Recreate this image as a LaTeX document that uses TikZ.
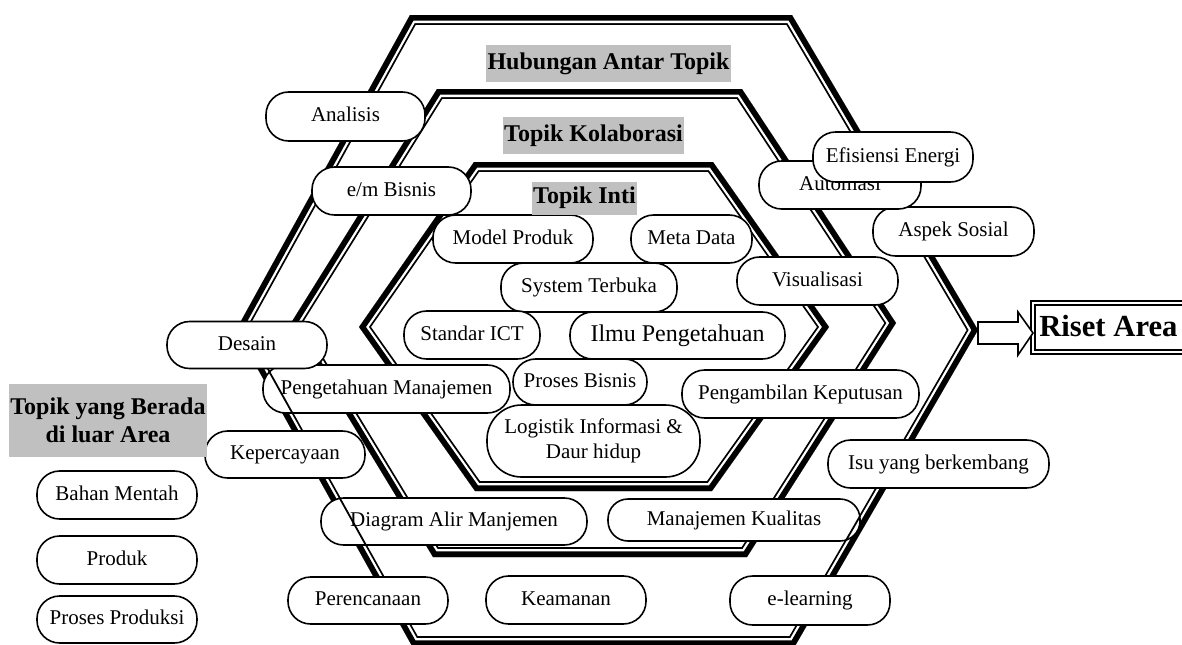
\documentclass[tikz,border=0pt]{standalone}
\usepackage{fontspec}
\setmainfont{Liberation Serif}
\definecolor{hdrgray}{RGB}{192,192,192}
\newcommand\lblfont{\fontsize{15.75}{18.75}\selectfont}
\newcommand\bigfont{\fontsize{18}{21}\selectfont}
\newcommand\hdrfont{\fontsize{18}{21}\selectfont\bfseries}
\newcommand\risetfont{\fontsize{23}{27}\selectfont\bfseries}
\newcommand\hexband[1]{%
  \begin{scope}
    \clip #1;
    \draw[line width=14.7pt] #1;
    \draw[white,line width=12pt] #1;
    \draw[line width=8.55pt] #1;
  \end{scope}}
\newcommand\thinover[2]{%
  \begin{scope}
    \clip[rounded corners=#2] (#1.south west) rectangle (#1.north east);
    \draw[line width=1.35pt, line join=miter] (415.2,23.8) -- (787.0,23.8) -- (967.8,330) -- (789.9,637.2) -- (417.2,637.2) -- (246.1,330) -- cycle;
  \end{scope}}
\tikzset{
  bw/.style={minimum width=#1*0.75pt},
  bh/.style={minimum height=#1*0.75pt},
  lblbase/.style={draw, line width=1.2pt, fill=white, rounded corners=17pt, inner sep=0pt,
    minimum height=36pt, font=\lblfont, align=center},
  lbl/.style={lblbase, text height=11pt, text depth=3.4pt},
  hdr/.style={fill=hdrgray, inner sep=0pt, font=\hdrfont, align=center},
  blockarrow/.style={draw, fill=white, line width=1.2pt, line join=miter}
}
\begin{document}
\begin{tikzpicture}[x=0.75pt,y=-0.75pt]
\useasboundingbox (0,0) rectangle (1182,644);
\clip (0,0) rectangle (1182,644);

% hexagons (thick-thin compound borders)
\hexband{(410,15) -- (792,15) -- (978,330) -- (795,646) -- (412,646) -- (236,330) -- cycle}
\hexband{(437,89) -- (742,89) -- (896,323) -- (747,557) -- (433,557) -- (291,323) -- cycle}
\hexband{(474,162) -- (713,162) -- (829,327) -- (712,491) -- (475,491) -- (359,327) -- cycle}

% boxes lying under the thin line of the outer hexagon
\node[lbl, bw=247, bh=48] (pm) at (386.5,389) {Pengetahuan Manajemen};
\node[lbl, bw=266, bh=47] (diagram) at (454,521.5) {Diagram Alir Manjemen};
\node[lbl, bw=252, bh=42, rounded corners=15pt] (kualitas) at (734,520) {Manajemen Kualitas};
\thinover{pm}{17pt}
\thinover{diagram}{17pt}
\thinover{kualitas}{15pt}

% other boxes
\node[lbl, bw=159, bh=49] (analisis) at (345.5,116.5) {Analisis};
\node[lbl, bw=159, bh=48] (embisnis) at (391.5,191) {e/m Bisnis};
\node[lbl, bw=160, bh=48] (modelproduk) at (513,239) {Model Produk};
\node[lbl, bw=121, bh=48] (metadata) at (691.5,239) {Meta Data};
\node[lbl, bw=176, bh=49] (system) at (589,287.5) {System Terbuka};
\node[lbl, bw=136, bh=48] (standar) at (472,335) {Standar ICT};
\node[lbl, bw=215, bh=47, font=\bigfont, text height=12.6pt, text depth=3.9pt] (ilmu) at (677.5,335.5) {Ilmu Pengetahuan};
\node[lblbase, bw=213, bh=72, rounded corners=26pt] (logistik) at (593.5,441) {Logistik Informasi \&\\Daur hidup};
\node[lbl, bw=134, bh=46] (proses) at (580,382) {Proses Bisnis};
\node[lbl, bw=160, bh=47] (desain) at (247,345) {Desain};
\node[lbl, bw=160, bh=47] (keper) at (285,454.5) {Kepercayaan};
\node[lbl, bw=160, bh=47] (perenc) at (368,600.5) {Perencanaan};
\node[lbl, bw=160, bh=48] (keamanan) at (566,600) {Keamanan};
\node[lbl, bw=160, bh=49] (elearn) at (810,600.5) {e-learning};
\node[lbl, bw=221, bh=48] (isu) at (938.5,464) {Isu yang berkembang};
\node[lbl, bw=237, bh=48] (pengambilan) at (800.5,394) {Pengambilan Keputusan};
\node[lbl, bw=161, bh=48] (visual) at (817.5,281) {Visualisasi};
\node[lbl, bw=161, bh=49] (aspek) at (953.5,231.5) {Aspek Sosial};
\node[lbl, bw=162, bh=48] (automasi) at (840,185) {Automasi};
\node[lbl, bw=160, bh=50] (efisiensi) at (893,157) {Efisiensi Energi};
\node[lbl, bw=160, bh=48] (bahan) at (117,495) {Bahan Mentah};
\node[lbl, bw=160, bh=48] (produk) at (117,560) {Produk};
\node[lbl, bw=160, bh=47] (prosesprod) at (117,619.5) {Proses Produksi};

% headers
\node[hdr, bw=245, bh=37] (hub) at (608.5,63.5) {Hubungan Antar Topik};
\node[hdr, bw=181, bh=37] (kol) at (593.5,135.5) {Topik Kolaborasi};
\node[hdr, bw=105, bh=33] (inti) at (584.5,198) {Topik Inti};
\node[hdr, bw=198, bh=73] (luar) at (108,420.5) {Topik yang Berada\\di luar Area};

% research area box and arrow
\node[draw, double, line width=1.5pt, double distance=1.2pt, inner sep=0pt, bw=217, bh=49.4] (risetbox) at (1141.4,327.5) {};
\node[font=\risetfont, inner sep=0pt, anchor=west] (riset) at (1039,326.5) {Riset Area};
\coordinate (outR) at (978,333);
\draw[blockarrow] (outR) ++(0,-11) -- ++(40,0) -- ++(0,-10) -- ++(15,21) -- ++(-15,22) -- ++(0,-11) -- ++(-40,0) -- cycle;
\end{tikzpicture}
\end{document}
